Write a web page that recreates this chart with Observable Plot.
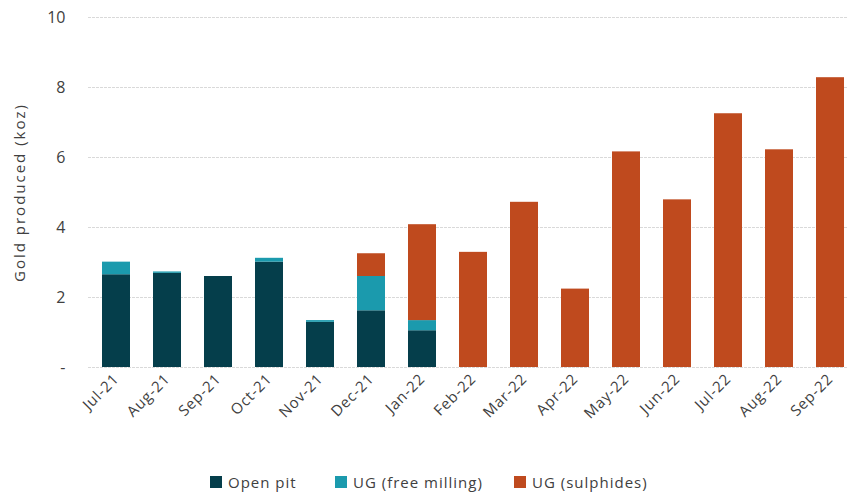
<!DOCTYPE html>
<html>
<head>
<meta charset="utf-8">
<script src="https://cdn.jsdelivr.net/npm/d3@7"></script>
<script src="https://cdn.jsdelivr.net/npm/@observablehq/plot@0.6"></script>
<style>
  html, body { margin: 0; padding: 0; background: #fff; }
  body { width: 848px; height: 498px; overflow: hidden; font-family: "Open Sans", sans-serif; position: relative; }
  #legend { position: absolute; left: 0; top: 472px; width: 848px; height: 20px; font-size: 15px; color: #404040; letter-spacing: 1px; }
  #legend span.item { position: absolute; top: 0; display: flex; align-items: center; gap: 6px; height: 20px; white-space: nowrap; }
  #legend span.sw { display: inline-block; width: 12px; height: 12px; }
</style>
</head>
<body>
<div id="chart"></div>
<div id="legend"></div>
<script>
const months = ["Jul-21","Aug-21","Sep-21","Oct-21","Nov-21","Dec-21","Jan-22","Feb-22","Mar-22","Apr-22","May-22","Jun-22","Jul-22","Aug-22","Sep-22"];
const openPit = [2.65, 2.69, 2.60, 3.01, 1.29, 1.62, 1.05, 0, 0, 0, 0, 0, 0, 0, 0];
const ugFreeMilling = [0.36, 0.04, 0, 0.11, 0.05, 0.98, 0.29, 0, 0, 0, 0, 0, 0, 0, 0];
const ugSulphides = [0, 0, 0, 0, 0, 0.65, 2.74, 3.29, 4.72, 2.24, 6.16, 4.79, 7.25, 6.22, 8.28];
const seriesNames = ["Open pit", "UG (free milling)", "UG (sulphides)"];
const seriesColors = ["#053e4b", "#1b9aad", "#bf4a1e"];
const yTicks = [0, 2, 4, 6, 8, 10];
const legendLeft = [210, 335, 514];

const data = [];
months.forEach((m, i) => {
  [openPit, ugFreeMilling, ugSulphides].forEach((arr, k) => {
    data.push({month: m, series: seriesNames[k], value: arr[i]});
  });
});

const chart = Plot.plot({
  width: 848,
  height: 455,
  marginTop: 17,
  marginBottom: 88,
  marginLeft: 88,
  marginRight: 0,
  style: {fontFamily: "Open Sans, sans-serif", fontSize: "14px", color: "#404040", background: "#fff"},
  x: {domain: months, range: [88, 859], paddingInner: 0.45, paddingOuter: 0.225, label: null},
  y: {domain: [0, 10], label: null},
  color: {domain: seriesNames, range: seriesColors},
  marks: [
    Plot.ruleY(yTicks, {stroke: "#d9d9d9", strokeWidth: 1, strokeDasharray: "3,1"}),
    Plot.barY(data, Plot.stackY({x: "month", y: "value", fill: "series", order: seriesNames})),
    Plot.axisY({ticks: yTicks, tickSize: 0, tickPadding: 23, fontSize: 16, tickFormat: d => d === 0 ? "-" : d, label: null}),
    Plot.axisX({tickSize: 0, tickPadding: 9, tickRotate: -45, fontSize: 15, label: null, className: "xax"}),
    Plot.text(["Gold produced (koz)"], {frameAnchor: "left", textAnchor: "middle", dx: -68, rotate: -90, fontSize: 15, fill: "#404040"})
  ]
});
document.getElementById("chart").appendChild(chart);
chart.querySelectorAll("text").forEach(t => {
  if (t.textContent === "Gold produced (koz)") t.style.letterSpacing = "2px";
  if (months.includes(t.textContent)) t.style.letterSpacing = "0.8px";
});

const legend = document.getElementById("legend");
seriesNames.forEach((n, k) => {
  const item = document.createElement("span");
  item.className = "item";
  item.style.left = legendLeft[k] + "px";
  const sw = document.createElement("span");
  sw.className = "sw";
  sw.style.background = seriesColors[k];
  item.appendChild(sw);
  item.appendChild(document.createTextNode(n));
  legend.appendChild(item);
});
</script>
</body>
</html>
